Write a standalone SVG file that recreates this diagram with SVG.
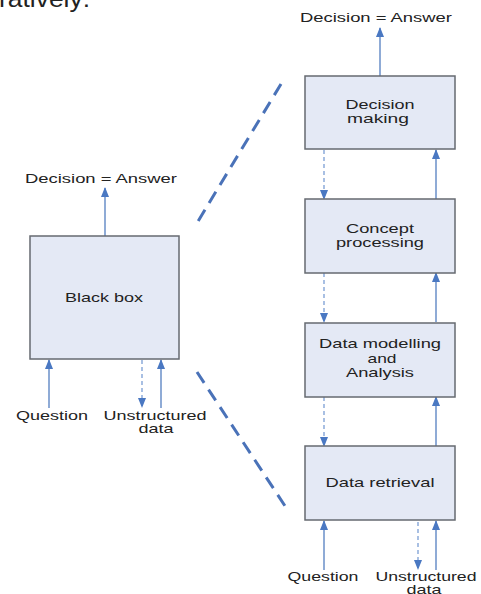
<svg xmlns="http://www.w3.org/2000/svg" width="481" height="594" viewBox="0 0 481 594">
<style>
.bg{fill:#ffffff}
.box{fill:#e4e9f5;stroke:#666a70;stroke-width:1.5}
.t{font-family:"Liberation Sans",Arial,sans-serif;font-size:13px;fill:#222222;text-anchor:middle}
.big{font-family:"Liberation Sans",Arial,sans-serif;font-size:24px;fill:#222222}
.solid{stroke:#6a8fc8;stroke-width:1.5;fill:none;marker-end:url(#ah)}
.dash{stroke:#7b9ed4;stroke-width:1.3;stroke-dasharray:4 3;fill:none;marker-end:url(#ah)}
.zoom{stroke:#4a72b8;stroke-width:3;stroke-dasharray:13 8;fill:none}
</style>
<defs>
<marker id="ah" markerUnits="userSpaceOnUse" markerWidth="10" markerHeight="10" viewBox="0 0 10 10" refX="9" refY="5" orient="auto">
<path d="M0,1 L10,5 L0,9 Z" fill="#4a78c2"/>
</marker>
</defs>
<rect class="bg" x="0" y="0" width="481" height="594"/>
<text class="big" x="-1" y="7" textLength="91" lengthAdjust="spacingAndGlyphs">ratively:</text>

<g id="connectors">
<line class="solid" x1="380" y1="76" x2="380" y2="28"/>
<line class="dash" x1="324" y1="150" x2="324" y2="199"/>
<line class="solid" x1="436" y1="199" x2="436" y2="150"/>
<line class="dash" x1="324" y1="273" x2="324" y2="322"/>
<line class="solid" x1="436" y1="322" x2="436" y2="273"/>
<line class="dash" x1="324" y1="397" x2="324" y2="446"/>
<line class="solid" x1="436" y1="446" x2="436" y2="397"/>
<line class="solid" x1="324" y1="570" x2="324" y2="521"/>
<line class="dash" x1="418" y1="522" x2="418" y2="569"/>
<line class="solid" x1="436" y1="570" x2="436" y2="521"/>
<line class="solid" x1="105" y1="236" x2="105" y2="188"/>
<line class="solid" x1="49" y1="408" x2="49" y2="360"/>
<line class="dash" x1="142" y1="360" x2="142" y2="407"/>
<line class="solid" x1="161" y1="408" x2="161" y2="360"/>
<line class="zoom" x1="281" y1="84" x2="197" y2="223"/>
<line class="zoom" x1="197" y1="372" x2="287" y2="509"/>
</g>

<g id="black-box">
<rect class="box" x="30" y="236" width="149" height="123"/>
<text class="t" x="104" y="302" textLength="78" lengthAdjust="spacingAndGlyphs">Black box</text>
</g>
<g id="decision-making">
<rect class="box" x="305" y="76" width="150" height="73"/>
<text class="t" x="380" y="109" textLength="69" lengthAdjust="spacingAndGlyphs">Decision</text>
<text class="t" x="378" y="123" textLength="62" lengthAdjust="spacingAndGlyphs">making</text>
</g>
<g id="concept-processing">
<rect class="box" x="305" y="199" width="150" height="74"/>
<text class="t" x="380" y="233" textLength="68" lengthAdjust="spacingAndGlyphs">Concept</text>
<text class="t" x="380" y="247" textLength="88" lengthAdjust="spacingAndGlyphs">processing</text>
</g>
<g id="data-modelling">
<rect class="box" x="305" y="323" width="150" height="74"/>
<text class="t" x="380" y="348" textLength="122" lengthAdjust="spacingAndGlyphs">Data modelling</text>
<text class="t" x="382" y="363" textLength="29" lengthAdjust="spacingAndGlyphs">and</text>
<text class="t" x="380" y="377" textLength="68" lengthAdjust="spacingAndGlyphs">Analysis</text>
</g>
<g id="data-retrieval">
<rect class="box" x="305" y="446" width="150" height="74"/>
<text class="t" x="380" y="487" textLength="109" lengthAdjust="spacingAndGlyphs">Data retrieval</text>
</g>

<g id="labels">
<text class="t" x="376" y="22" textLength="152" lengthAdjust="spacingAndGlyphs">Decision = Answer</text>
<text class="t" x="101" y="183" textLength="152" lengthAdjust="spacingAndGlyphs">Decision = Answer</text>
<text class="t" x="52" y="420" textLength="72" lengthAdjust="spacingAndGlyphs">Question</text>
<text class="t" x="155" y="420" textLength="103" lengthAdjust="spacingAndGlyphs">Unstructured</text>
<text class="t" x="156" y="433" textLength="35" lengthAdjust="spacingAndGlyphs">data</text>
<text class="t" x="323" y="581" textLength="71" lengthAdjust="spacingAndGlyphs">Question</text>
<text class="t" x="426" y="581" textLength="101" lengthAdjust="spacingAndGlyphs">Unstructured</text>
<text class="t" x="424" y="594" textLength="35" lengthAdjust="spacingAndGlyphs">data</text>
</g>
</svg>
